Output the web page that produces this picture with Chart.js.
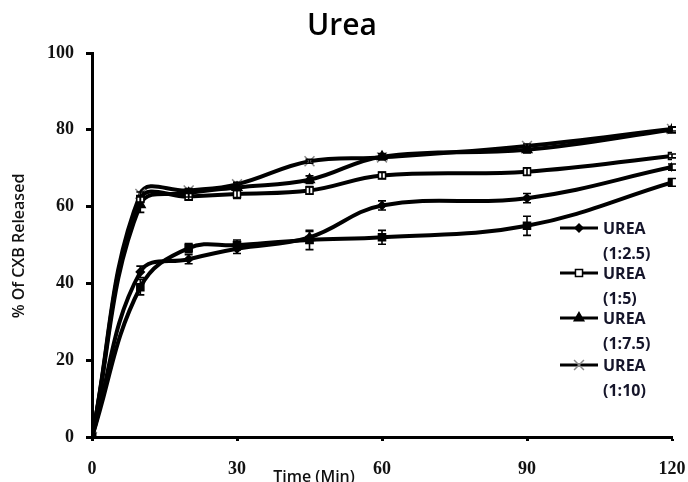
<!DOCTYPE html>
<html>
<head>
<meta charset="utf-8">
<script src="https://cdn.jsdelivr.net/npm/chart.js@4.4.1/dist/chart.umd.min.js"></script>
<style>
  html, body { margin: 0; padding: 0; background: #fff; }
  #wrap { width: 688px; height: 482px; position: relative; }
</style>
</head>
<body>
<div id="wrap"><canvas id="urea-chart" width="688" height="482"></canvas></div>
<script>
  // Sampling times (min)
  const times = [0, 10, 20, 30, 45, 60, 90, 120];

  // % CXB released
  const urea1_2_5 = [0, 43, 46.3, 49, 52, 60.3, 62.2, 70.3];
  const urea1_5 = [0, 62, 62.6, 63.3, 64.2, 68.1, 69.1, 73.2];
  const urea1_7_5 = [0, 60.5, 63.5, 65, 67, 73, 74.8, 80];
  const urea1_10 = [0, 63.3, 64.2, 65.8, 71.8, 72.8, 75.8, 80.2];
  const ureaUnlabelled = [0, 39, 49.2, 50, 51.3, 52, 55, 66.3];

  // Error bars (±)
  const err1_2_5 = [0, 1.5, 1.2, 1.2, 1.5, 1.2, 1.2, 0.8];
  const err1_5 = [0, 0.8, 0.8, 1.2, 1, 0.8, 1, 0.5];
  const err1_7_5 = [0, 2, 1, 0.8, 1, 0.8, 0.8, 0.8];
  const err1_10 = [0, 0.5, 0.5, 0.5, 0.5, 0.5, 0.5, 0.5];
  const errUnlabelled = [0, 2, 1.2, 1.3, 2.5, 1.8, 2.5, 1];

  const xTicks = [0, 30, 60, 90, 120];
  const yTicks = [0, 20, 40, 60, 80, 100];

  const legendNames = [['UREA', '(1:2.5)'], ['UREA', '(1:5)'], ['UREA', '(1:7.5)'], ['UREA', '(1:10)']];

  const toXY = arr => arr.map((v, i) => ({ x: times[i], y: v }));

  function series(label, values, errors, style, radius, fill, stroke) {
    return {
      label: label,
      data: toXY(values),
      errors: errors,
      borderColor: '#000',
      borderWidth: 4,
      tension: 0.4,
      pointStyle: style,
      pointRadius: radius,
      pointBackgroundColor: fill,
      pointBorderColor: stroke,
      pointBorderWidth: 1.5
    };
  }

  const datasets = [
    series('Unlabelled', ureaUnlabelled, errUnlabelled, 'rect', 5, '#000', '#000'),
    series('UREA (1:2.5)', urea1_2_5, err1_2_5, 'rectRot', 4, '#000', '#000'),
    series('UREA (1:5)', urea1_5, err1_5, 'rect', 5, '#fff', '#000'),
    series('UREA (1:7.5)', urea1_7_5, err1_7_5, 'triangle', 5.5, '#000', '#000'),
    series('UREA (1:10)', urea1_10, err1_10, 'crossRot', 7, '#fff', '#888')
  ];

  // Error bars with caps
  const errorBars = {
    id: 'errorBars',
    afterDatasetsDraw(chart) {
      const ctx = chart.ctx;
      const y = chart.scales.y;
      ctx.save();
      ctx.strokeStyle = '#000';
      ctx.lineWidth = 1.6;
      chart.data.datasets.forEach((ds, i) => {
        const meta = chart.getDatasetMeta(i);
        meta.data.forEach((pt, j) => {
          const e = ds.errors[j];
          if (!e) return;
          const v = ds.data[j].y;
          const top = y.getPixelForValue(v + e);
          const bot = y.getPixelForValue(v - e);
          ctx.beginPath();
          ctx.moveTo(pt.x, top); ctx.lineTo(pt.x, bot);
          ctx.moveTo(pt.x - 4, top); ctx.lineTo(pt.x + 4, top);
          ctx.moveTo(pt.x - 4, bot); ctx.lineTo(pt.x + 4, bot);
          ctx.stroke();
        });
      });
      ctx.restore();
    }
  };

  // Title, axis titles and the legend on the right
  const decorations = {
    id: 'decorations',
    afterDraw(chart) {
      const ctx = chart.ctx;
      ctx.save();
      ctx.fillStyle = '#000';
      ctx.textAlign = 'center';
      ctx.textBaseline = 'middle';
      ctx.font = '600 30px "Open Sans"';
      ctx.fillText('Urea', 342, 26);

      ctx.font = '600 16px "Open Sans"';
      ctx.fillStyle = '#111';
      ctx.fillText('Time (Min)', 314, 477);

      ctx.save();
      ctx.translate(19, 246);
      ctx.rotate(-Math.PI / 2);
      ctx.fillText('% Of CXB Released', 0, 0);
      ctx.restore();

      // legend
      const rows = [228, 273, 318, 365];
      ctx.textAlign = 'left';
      ctx.font = 'bold 16px "Open Sans"';
      for (let k = 0; k < 4; k++) {
        const ds = chart.data.datasets[k + 1];
        const cy = rows[k];
        ctx.strokeStyle = '#000';
        ctx.lineWidth = 3;
        ctx.beginPath();
        ctx.moveTo(560, cy); ctx.lineTo(598, cy);
        ctx.stroke();
        ctx.fillStyle = ds.pointBackgroundColor;
        ctx.strokeStyle = ds.pointBorderColor;
        ctx.lineWidth = ds.pointBorderWidth;
        Chart.helpers.drawPoint(ctx, {
          pointStyle: ds.pointStyle,
          radius: ds.pointRadius,
          rotation: 0,
          borderWidth: ds.pointBorderWidth
        }, 579, cy);
        ctx.fillStyle = '#15152a';
        ctx.fillText(legendNames[k][0], 603, cy + 1);
        ctx.fillText(legendNames[k][1], 603, cy + 26);
      }
      ctx.restore();
    }
  };

  const tickFont = { family: '"Liberation Serif"', size: 18, weight: 'bold' };

  new Chart(document.getElementById('urea-chart').getContext('2d'), {
    type: 'line',
    data: { datasets: datasets },
    plugins: [errorBars, decorations],
    options: {
      responsive: false,
      animation: false,
      layout: { padding: { top: 53, right: 16, left: 0, bottom: 0 } },
      plugins: {
        legend: { display: false },
        title: { display: false },
        tooltip: { enabled: false }
      },
      scales: {
        x: {
          type: 'linear',
          min: 0,
          max: 120,
          afterBuildTicks: s => { s.ticks = xTicks.map(v => ({ value: v })); },
          afterFit: s => { s.height = 45; s.paddingLeft = 0; s.paddingRight = 0; },
          ticks: { font: tickFont, color: '#111', padding: 18, maxRotation: 0 },
          grid: { drawOnChartArea: false, drawTicks: true, tickLength: 4, tickWidth: 3, tickColor: '#000' },
          border: { display: true, color: '#000', width: 3 }
        },
        y: {
          min: 0,
          max: 100,
          afterBuildTicks: s => { s.ticks = yTicks.map(v => ({ value: v })); },
          afterFit: s => { s.width = 92; s.paddingTop = 0; s.paddingBottom = 0; },
          ticks: { font: tickFont, color: '#111', padding: 12 },
          grid: { drawOnChartArea: false, drawTicks: true, tickLength: 6, tickWidth: 3, tickColor: '#000' },
          border: { display: true, color: '#000', width: 3 }
        }
      }
    }
  });
</script>
</body>
</html>
